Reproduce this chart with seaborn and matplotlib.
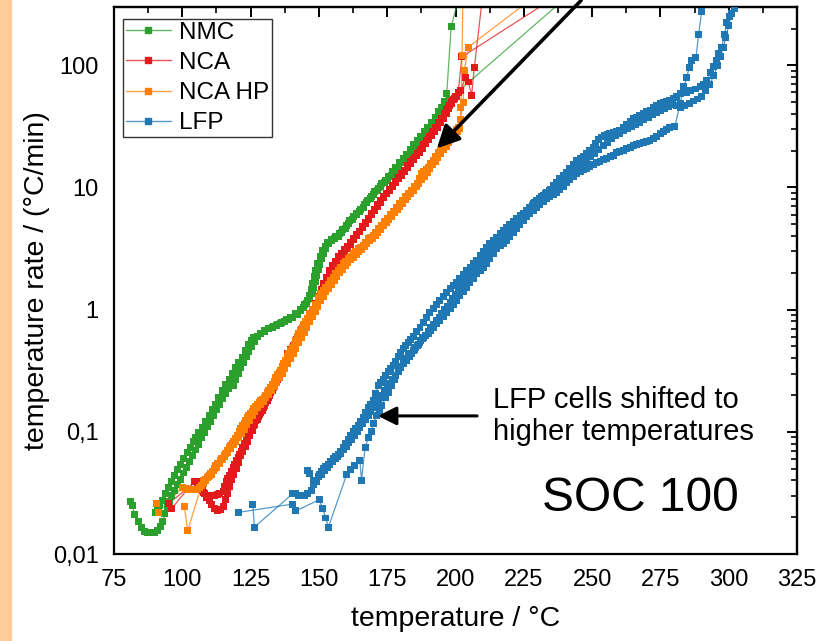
import numpy as np
import pandas as pd
import matplotlib
matplotlib.use("Agg")
import matplotlib.pyplot as plt
from matplotlib.lines import Line2D
from matplotlib.ticker import MultipleLocator, LogLocator, NullFormatter, FixedLocator, FixedFormatter
from matplotlib.patches import Rectangle
import seaborn as sns

sns.set_style('white')
plt.rcParams['font.family'] = ['Liberation Sans', 'DejaVu Sans']
plt.rcParams['text.color'] = 'black'
plt.rcParams['axes.labelcolor'] = 'black'
plt.rcParams['xtick.color'] = 'black'
plt.rcParams['ytick.color'] = 'black'

# ---- data (temperature in degC, rate in degC/min) ----
nmc1_t = [80.9, 81.6, 82.6, 83.8, 85.0, 86.2, 87.4, 88.6, 89.8, 90.9, 92.0, 92.9, 93.6, 94.4, 95.3, 96.2, 97.2, 98.2, 99.2, 100.3,
          101.4, 102.5, 103.6, 104.7, 105.8, 106.9, 108.0, 109.1, 110.2, 111.3, 112.4, 113.5, 114.6, 115.7, 116.8, 117.8, 118.6, 119.4, 120.4, 121.4,
          122.4, 123.4, 124.4, 125.4, 126.4, 127.4, 128.6, 130.0, 131.5, 133.0, 134.5, 136.0, 137.5, 139.0, 140.5, 142.0, 143.3, 144.5, 145.6, 146.6,
          147.5, 148.2, 148.8, 149.3, 149.8, 150.4, 151.1, 151.8, 152.6, 153.5, 154.6, 155.8, 157.1, 158.4, 159.7, 161.0, 162.3, 163.6, 164.9, 166.2,
          167.5, 168.8, 170.1, 171.4, 172.7, 174.0, 175.3, 176.6, 177.9, 179.2, 180.5, 181.8, 183.1, 184.4, 185.7, 187.0, 188.3, 189.6, 190.9, 192.2,
          193.5, 194.8, 196.0, 197.0, 197.8, 252.0]
nmc1_r = [0.027, 0.025, 0.021, 0.0186, 0.0165, 0.0152, 0.015, 0.015, 0.015, 0.0155, 0.0168, 0.0186, 0.0215, 0.0243, 0.027, 0.030, 0.033, 0.037, 0.041, 0.046,
          0.051, 0.057, 0.064, 0.071, 0.079, 0.089, 0.099, 0.110, 0.122, 0.136, 0.151, 0.168, 0.186, 0.205, 0.226, 0.24, 0.238, 0.27, 0.30, 0.335,
          0.37, 0.41, 0.455, 0.50, 0.55, 0.60, 0.635, 0.665, 0.695, 0.72, 0.745, 0.77, 0.80, 0.83, 0.87, 0.92, 0.98, 1.05, 1.13, 1.23,
          1.36, 1.52, 1.70, 1.90, 2.12, 2.36, 2.62, 2.90, 3.18, 3.45, 3.66, 3.82, 4.0, 4.3, 4.65, 5.05, 5.5, 5.95, 6.4, 6.9,
          7.5, 8.1, 8.7, 9.4, 10.1, 10.9, 11.7, 12.6, 13.6, 14.7, 15.9, 17.1, 18.4, 19.8, 21.4, 23.0, 24.8, 26.8, 29.0, 31.5,
          34.5, 38.0, 42.0, 47.0, 53.0, 600]

nmc2_t = [90.3, 91.0, 91.8, 92.7, 93.7, 94.8, 95.9, 97.0, 98.2, 99.4, 100.6, 101.8, 103.0, 104.0, 104.9, 106.1, 107.3, 108.5, 109.8, 110.9,
          112.0, 113.3, 114.6, 115.9, 117.1, 118.3, 119.5, 120.7, 122.0, 123.2, 124.4, 125.3, 126.2, 129.9, 131.5, 133.2, 134.8, 136.4, 138.0, 139.7,
          141.5, 143.3, 144.7, 145.9, 146.7, 147.3, 147.8, 148.3, 148.8, 149.6, 150.5, 151.4, 152.3, 153.3, 154.6, 156.0, 157.4, 158.7, 160.0, 161.3,
          162.6, 163.9, 165.2, 166.5, 167.8, 169.1, 170.4, 171.7, 173.0, 174.3, 175.6, 176.9, 178.2, 179.5, 180.8, 182.1, 183.4, 184.7, 186.0, 187.3,
          188.6, 189.9, 191.2, 192.5, 193.7, 194.9, 196.0, 196.8, 198.4, 200.7, 202.5]
nmc2_r = [0.022, 0.0235, 0.025, 0.0275, 0.031, 0.035, 0.039, 0.0436, 0.049, 0.054, 0.061, 0.068, 0.075, 0.083, 0.09, 0.099, 0.108, 0.121, 0.135, 0.151,
          0.169, 0.19, 0.217, 0.243, 0.27, 0.30, 0.337, 0.37, 0.407, 0.46, 0.523, 0.56, 0.595, 0.673, 0.70, 0.73, 0.763, 0.79, 0.83, 0.865,
          0.93, 1.01, 1.1, 1.2, 1.3, 1.45, 1.65, 1.87, 2.1, 2.4, 2.7, 3.05, 3.3, 3.55, 3.78, 3.95, 4.2, 4.55, 4.9, 5.35,
          5.75, 6.15, 6.6, 7.2, 7.9, 8.5, 9.2, 9.9, 10.7, 11.5, 12.4, 13.5, 14.6, 15.9, 17.2, 18.8, 20.5, 22.3, 24.2, 26.2,
          28.5, 31.0, 34.0, 37.5, 41.5, 45.5, 50.5, 58.6, 206, 324, 900]

nca1_t = [96.1, 104.3, 105.2, 106.1, 107.0, 107.9, 108.9, 109.8, 110.7, 111.7, 112.8, 114.0, 115.0, 115.9, 116.7, 117.4, 118.2, 118.9, 119.7, 120.5,
          121.4, 122.2, 123.0, 123.8, 124.7, 125.6, 126.5, 127.5, 128.4, 129.3, 130.2, 131.1, 132.0, 133.0, 133.9, 134.8, 138.4, 139.6, 140.9, 141.8,
          142.7, 143.6, 144.5, 145.5, 146.4, 147.3, 148.2, 149.1, 150.0, 150.9, 151.8, 152.8, 153.8, 154.8, 155.9, 157.0, 158.1, 159.2, 160.3, 161.4,
          162.5, 163.6, 164.7, 165.8, 166.9, 168.0, 169.1, 170.2, 171.3, 172.4, 173.5, 174.6, 175.7, 176.8, 177.9, 179.0, 180.1, 181.2, 182.3, 183.4,
          184.5, 185.6, 186.7, 187.8, 188.9, 190.0, 191.1, 192.2, 193.3, 194.4, 195.5, 196.6, 197.6, 198.5, 199.3, 200.0, 201.0, 202.3, 251.8]
nca1_r = [0.0235, 0.0394, 0.039, 0.037, 0.0345, 0.032, 0.029, 0.0272, 0.0252, 0.0237, 0.0225, 0.023, 0.0245, 0.028, 0.031, 0.036, 0.041, 0.045, 0.050, 0.056,
          0.0636, 0.069, 0.076, 0.084, 0.093, 0.102, 0.114, 0.127, 0.138, 0.149, 0.164, 0.18, 0.198, 0.217, 0.243, 0.27, 0.434, 0.475, 0.52, 0.575,
          0.63, 0.685, 0.74, 0.80, 0.865, 0.93, 1.0, 1.1, 1.2, 1.32, 1.45, 1.6, 1.77, 1.97, 2.18, 2.4, 2.63, 2.88, 3.14, 3.42,
          3.72, 4.03, 4.36, 4.72, 5.1, 5.5, 5.95, 6.45, 7.0, 7.6, 8.2, 8.85, 9.5, 10.2, 11.0, 11.8, 12.6, 13.5, 14.5, 15.6,
          16.8, 18.1, 19.5, 21.0, 22.7, 24.5, 26.5, 28.7, 31.2, 34.0, 37.0, 40.5, 44.5, 48.5, 52.5, 56.0, 60.0, 117, 600]

nca2_t = [95.1, 104.9, 105.7, 106.5, 107.4, 108.2, 109.1, 110.0, 111.0, 111.9, 112.8, 113.7, 114.9, 115.5, 116.1, 116.7, 117.3, 118.0, 118.6, 119.2,
          119.8, 120.4, 121.0, 121.6, 122.2, 122.8, 123.4, 124.2, 125.0, 126.0, 126.9, 127.8, 128.7, 129.6, 130.6, 131.5, 132.4, 133.3, 134.2, 135.1,
          136.0, 137.0, 137.9, 138.8, 139.7, 140.6, 141.5, 142.4, 143.3, 144.2, 145.2, 146.1, 147.0, 147.9, 148.8, 149.8, 150.8, 151.8, 152.9, 154.0,
          155.1, 156.2, 157.3, 158.4, 159.5, 160.6, 161.7, 162.8, 163.9, 165.0, 166.1, 167.2, 168.3, 169.4, 170.5, 171.6, 172.7, 173.8, 174.9, 176.0,
          177.1, 178.2, 179.3, 180.4, 181.5, 182.6, 183.7, 184.8, 185.9, 187.0, 188.1, 189.2, 190.3, 191.4, 192.5, 193.6, 194.7, 195.8, 196.8, 197.7,
          198.6, 199.5, 200.4, 202.0, 203.5, 204.7, 205.9, 206.9, 211.0]
nca2_r = [0.026, 0.039, 0.037, 0.035, 0.033, 0.031, 0.0303, 0.030, 0.030, 0.030, 0.0305, 0.031, 0.0325, 0.036, 0.0394, 0.0415, 0.0437, 0.047, 0.051, 0.0545,
          0.058, 0.0615, 0.065, 0.0695, 0.074, 0.080, 0.087, 0.094, 0.102, 0.112, 0.123, 0.134, 0.145, 0.159, 0.175, 0.192, 0.21, 0.232, 0.255, 0.28,
          0.31, 0.34, 0.37, 0.41, 0.46, 0.505, 0.55, 0.60, 0.65, 0.70, 0.76, 0.83, 0.90, 1.0, 1.12, 1.28, 1.45, 1.63, 1.85, 2.08,
          2.3, 2.5, 2.7, 2.9, 3.08, 3.3, 3.55, 3.8, 4.1, 4.4, 4.75, 5.15, 5.6, 6.1, 6.6, 7.2, 7.8, 8.4, 9.0, 9.7,
          10.4, 11.2, 12.0, 12.9, 13.9, 15.0, 16.2, 17.5, 19.0, 20.6, 22.3, 24.2, 26.2, 28.5, 31.0, 33.8, 36.8, 40.2, 43.8, 47.2,
          50.5, 53.5, 55.0, 62.0, 80.0, 73.0, 57.0, 96.0, 600]

hp1_t = [90.6, 91.2, 100.0, 101.2, 102.4, 103.6, 104.6, 105.5, 106.3, 107.0, 107.8, 108.6, 109.2, 109.8, 110.4, 111.0, 111.7, 112.3, 113.0, 113.8,
         114.5, 115.3, 115.9, 116.5, 117.1, 117.7, 118.3, 118.9, 119.5, 120.1, 120.8, 121.4, 122.0, 122.6, 123.2, 123.8, 124.4, 125.0, 125.6, 126.2,
         126.8, 127.5, 128.1, 128.7, 129.3, 129.9, 130.5, 131.1, 131.7, 132.4, 133.0, 133.6, 134.2, 134.8, 135.4, 136.0, 136.6, 137.2, 137.8, 138.4,
         139.0, 139.7, 140.3, 140.9, 141.5, 142.1, 142.7, 143.3, 143.9, 144.5, 145.1, 145.7, 146.6, 147.6, 148.6, 149.8, 150.7, 151.6, 152.5, 153.4,
         154.3, 155.3, 156.2, 157.1, 158.0, 158.9, 159.8, 160.8, 161.7, 162.6, 163.5, 164.4, 165.3, 166.3, 167.2, 168.1, 169.0, 169.9, 170.8, 171.7,
         172.8, 173.9, 175.0, 176.1, 177.2, 178.3, 179.4, 180.5, 181.6, 182.7, 183.8, 184.9, 185.9, 186.8, 187.6, 188.4, 189.2, 190.0, 190.9, 191.9,
         192.8, 193.7, 194.6, 195.4, 196.2, 197.1, 198.0, 198.9, 199.8, 200.4, 201.0, 201.8, 202.8, 203.2, 204.7, 241.6]
hp1_r = [0.026, 0.022, 0.035, 0.0345, 0.034, 0.0336, 0.0338, 0.034, 0.0352, 0.0365, 0.038, 0.040, 0.042, 0.0436, 0.0457, 0.0478, 0.050, 0.053, 0.0555, 0.0583,
         0.061, 0.0636, 0.067, 0.0705, 0.074, 0.078, 0.081, 0.084, 0.088, 0.093, 0.10, 0.107, 0.112, 0.117, 0.123, 0.13, 0.135, 0.14, 0.147, 0.155,
         0.162, 0.169, 0.175, 0.18, 0.185, 0.19, 0.20, 0.21, 0.22, 0.23, 0.245, 0.26, 0.277, 0.295, 0.307, 0.32, 0.34, 0.36, 0.385, 0.41,
         0.435, 0.46, 0.49, 0.52, 0.56, 0.60, 0.64, 0.68, 0.715, 0.75, 0.80, 0.85, 0.925, 1.0, 1.11, 1.26, 1.35, 1.43, 1.52, 1.62,
         1.73, 1.84, 1.96, 2.09, 2.23, 2.37, 2.48, 2.6, 2.73, 2.86, 3.0, 3.15, 3.25, 3.35, 3.55, 3.8, 3.93, 4.06, 4.3, 4.6,
         4.9, 5.25, 5.6, 6.0, 6.4, 6.9, 7.4, 7.9, 8.4, 8.9, 9.4, 10.1, 10.8, 11.8, 12.9, 13.5, 14.0, 14.6, 15.6, 16.6,
         18.0, 19.5, 20.6, 21.7, 22.8, 24.3, 25.9, 27.1, 28.4, 29.8, 31.2, 36.0, 50.0, 91.0, 141, 600]

hp2_t = [100.7, 102.0, 107.6, 108.6, 109.6, 110.6, 111.6, 112.6, 113.6, 114.6, 115.6, 116.6, 117.6, 118.6, 119.6, 120.6, 121.6, 122.6, 123.6, 124.6,
         125.6, 126.6, 127.6, 128.6, 129.6, 130.6, 131.6, 132.6, 133.6, 134.6, 135.6, 136.6, 137.6, 138.6, 139.6, 140.6, 141.6, 142.6, 143.6, 144.6,
         145.6, 146.6, 147.6, 148.6, 149.6, 150.6, 151.6, 152.6, 153.6, 154.6, 155.6, 156.6, 157.6, 158.6, 159.6, 160.6, 161.6, 162.6, 163.6, 164.6,
         165.6, 166.6, 167.6, 168.6, 169.6, 170.6, 171.6, 172.6, 173.6, 174.6, 175.6, 176.6, 177.6, 178.6, 179.6, 180.6, 181.6, 182.6, 183.6, 184.6,
         185.6, 186.6, 187.6, 188.6, 189.6, 190.6, 191.6, 192.6, 193.6, 194.6, 195.6, 196.6, 197.6, 198.6, 199.6, 200.6, 201.5, 202.0, 202.4, 203.0]
hp2_r = [0.0245, 0.0156, 0.040, 0.041, 0.043, 0.045, 0.048, 0.051, 0.055, 0.059, 0.063, 0.068, 0.073, 0.078, 0.083, 0.089, 0.097, 0.105, 0.114, 0.124,
         0.135, 0.146, 0.157, 0.168, 0.178, 0.19, 0.203, 0.218, 0.235, 0.255, 0.278, 0.302, 0.33, 0.365, 0.40, 0.44, 0.485, 0.535, 0.59, 0.65,
         0.72, 0.80, 0.88, 0.97, 1.07, 1.18, 1.29, 1.4, 1.5, 1.62, 1.74, 1.87, 2.0, 2.14, 2.28, 2.42, 2.55, 2.68, 2.82, 2.98,
         3.12, 3.28, 3.45, 3.65, 3.85, 4.05, 4.28, 4.55, 4.85, 5.15, 5.45, 5.8, 6.2, 6.6, 7.0, 7.45, 7.9, 8.4, 8.9, 9.5,
         10.1, 10.8, 11.6, 12.4, 13.3, 14.3, 15.3, 16.4, 17.6, 18.9, 20.3, 21.8, 23.4, 25.0, 26.7, 28.5, 30.5, 45.0, 120, 1000]

lfp1_t = [145.7, 146.7, 147.9, 149.2, 150.1, 151.0, 151.6, 152.5, 153.4, 154.3, 155.3, 156.2, 157.1, 158.0, 158.9, 159.8, 160.8, 161.7, 162.6, 163.5,
          164.4, 165.3, 166.3, 167.2, 168.1, 169.0, 169.9, 170.8, 171.7, 172.6, 173.6, 174.5, 175.4, 176.3, 177.2, 178.2, 179.1, 180.0, 180.9, 181.8,
          182.7, 183.6, 184.6, 185.8, 187.0, 188.2, 189.4, 190.6, 191.9, 193.1, 194.3, 195.5, 196.8, 198.0, 199.2, 200.4, 201.6, 202.8, 204.1, 205.3,
          206.5, 207.8, 209.0, 210.2, 211.4, 212.6, 213.9, 215.1, 216.3, 217.5, 218.7, 219.9, 221.2, 222.4, 223.6, 224.8, 226.0, 227.2, 228.5, 229.7,
          230.9, 232.1, 233.4, 234.6, 235.8, 237.0, 238.2, 239.5, 240.7, 241.9, 243.1, 244.4, 245.6, 246.8, 248.0, 249.2, 250.4, 251.4, 252.5, 253.5,
          254.5, 255.5, 256.5, 257.7, 259.0, 260.2, 261.4, 262.7, 263.9, 265.1, 266.3, 267.5, 268.8, 270.0, 271.2, 272.4, 273.6, 274.9, 276.1, 277.3,
          278.5, 279.7, 281.0, 282.2, 283.4, 284.6, 285.9, 287.7, 289.5, 290.8, 292.0, 293.2, 294.5, 295.7, 296.3, 297.5, 298.5, 299.3, 300.2, 301.0,
          302.0, 302.9, 304.5]
lfp1_r = [0.0485, 0.0455, 0.040, 0.039, 0.045, 0.047, 0.050, 0.052, 0.054, 0.057, 0.060, 0.0625, 0.065, 0.0695, 0.074, 0.080, 0.086, 0.093, 0.10, 0.106,
          0.112, 0.121, 0.131, 0.144, 0.157, 0.168, 0.18, 0.205, 0.238, 0.254, 0.27, 0.29, 0.31, 0.33, 0.35, 0.38, 0.41, 0.445, 0.48, 0.51,
          0.54, 0.57, 0.60, 0.66, 0.72, 0.79, 0.87, 0.95, 1.02, 1.1, 1.18, 1.28, 1.38, 1.48, 1.58, 1.67, 1.8, 1.94, 2.09, 2.22,
          2.37, 2.52, 2.75, 3.0, 3.24, 3.45, 3.68, 3.92, 4.2, 4.45, 4.72, 4.98, 5.25, 5.54, 5.85, 6.17, 6.5, 6.9, 7.35, 7.8,
          8.2, 8.65, 9.1, 9.7, 10.3, 11.0, 11.8, 12.5, 13.3, 14.3, 15.4, 16.6, 17.3, 18.0, 18.9, 20.0, 21.4, 23.0, 24.6, 25.9,
          26.5, 27.0, 27.5, 28.2, 28.8, 29.5, 31.0, 32.8, 34.5, 36.5, 37.7, 38.9, 40.2, 41.5, 42.8, 45.0, 47.0, 48.5, 49.5, 50.5,
          51.6, 54.0, 56.0, 58.6, 66.5, 60.0, 62.0, 64.0, 66.5, 70.0, 75.0, 88.0, 97.0, 110, 125, 141, 180, 226, 250, 265,
          290, 320, 600]

lfp2_t = [125.8, 126.4, 140.3, 141.4, 142.5, 143.6, 144.7, 146.0, 147.3, 148.0, 149.0, 150.0, 151.0, 152.0, 153.0, 154.0, 155.0, 156.0, 157.0, 158.0,
          159.0, 160.0, 161.0, 162.0, 163.0, 164.0, 165.0, 166.0, 167.0, 168.0, 169.0, 170.0, 171.0, 172.0, 173.0, 174.0, 175.0, 176.0, 177.0, 178.0,
          179.0, 180.0, 181.0, 182.0, 183.0, 184.0, 185.0, 186.0, 187.0, 188.0, 189.0, 190.0, 191.0, 192.0, 193.0, 194.0, 195.0, 196.0, 197.0, 198.0,
          199.0, 200.0, 201.0, 202.0, 203.0, 204.0, 205.0, 206.0, 207.0, 208.0, 209.0, 210.0, 211.0, 212.0, 213.0, 214.0, 215.0, 216.0, 217.0, 218.0,
          219.0, 220.0, 221.0, 222.0, 223.0, 224.0, 225.0, 226.0, 227.0, 228.0, 229.0, 230.0, 231.5, 233.0, 234.5, 236.0, 237.5, 239.0, 240.5, 242.0,
          243.5, 245.0, 246.5, 248.0, 249.5, 251.0, 252.5, 254.0, 255.5, 257.0, 258.5, 260.0, 261.5, 263.0, 264.5, 266.0, 267.5, 269.0, 270.5, 272.0,
          273.5, 275.0, 276.5, 278.0, 279.5, 281.0, 282.5, 284.0, 285.5, 287.0, 288.5, 290.0, 291.5, 293.0, 294.5, 296.0, 297.0, 298.0, 299.0, 300.0,
          301.0, 302.0, 303.5]
lfp2_r = [0.0256, 0.0166, 0.031, 0.031, 0.030, 0.030, 0.030, 0.031, 0.033, 0.037, 0.040, 0.043, 0.045, 0.048, 0.051, 0.054, 0.057, 0.060, 0.063, 0.067,
          0.071, 0.076, 0.081, 0.087, 0.094, 0.101, 0.109, 0.117, 0.126, 0.136, 0.147, 0.159, 0.172, 0.186, 0.2, 0.216, 0.233, 0.251, 0.27, 0.29,
          0.312, 0.335, 0.36, 0.385, 0.41, 0.44, 0.47, 0.505, 0.54, 0.58, 0.62, 0.665, 0.71, 0.76, 0.815, 0.87, 0.93, 1.0, 1.07, 1.15,
          1.23, 1.32, 1.41, 1.51, 1.62, 1.73, 1.85, 1.98, 2.12, 2.27, 2.42, 2.58, 2.75, 2.93, 3.12, 3.32, 3.53, 3.75, 3.98, 4.22,
          4.47, 4.73, 5.0, 5.28, 5.57, 5.87, 6.18, 6.5, 6.83, 7.17, 7.52, 7.88, 8.4, 8.95, 9.5, 10.1, 10.7, 11.4, 12.1, 12.9,
          13.7, 14.6, 15.6, 16.6, 17.8, 19.0, 20.5, 22.0, 23.5, 25.0, 26.5, 27.8, 29.0, 30.3, 31.5, 32.8, 34.2, 35.8, 37.5, 39.2,
          41.0, 42.8, 44.5, 46.0, 47.5, 46.5, 45.5, 46.5, 48.5, 51.0, 53.0, 56.0, 62.0, 70.0, 82.0, 100, 118, 140, 170, 210,
          265, 320, 600]

lfp3_t = [120.5, 140.3, 141.5, 150.1, 151.4, 152.5, 153.5, 160.2, 161.5, 163.2, 165.0, 165.6, 166.9, 168.1, 169.3, 169.9, 171.2, 172.2, 173.0, 174.3,
          175.5, 176.6, 177.8, 179.1, 180.0, 180.9, 181.8, 182.7, 183.6, 184.6, 185.5, 186.4, 187.3, 188.2, 189.1, 190.0, 191.0, 191.9, 193.1, 194.3,
          195.5, 196.8, 198.0, 199.2, 200.4, 201.6, 202.8, 204.1, 205.3, 206.5, 207.8, 209.0, 210.2, 211.4, 212.6, 213.9, 215.1, 216.3, 217.5, 218.7,
          219.9, 221.2, 222.4, 223.6, 224.8, 226.0, 227.2, 228.5, 229.7, 230.9, 232.1, 233.4, 234.6, 235.8, 237.0, 238.2, 239.5, 240.7, 241.9, 243.1,
          244.4, 245.6, 246.8, 248.0, 249.2, 250.4, 251.7, 252.9, 254.1, 255.3, 256.6, 257.8, 259.0, 260.2, 261.4, 262.6, 263.9, 265.1, 266.3, 267.5,
          268.8, 270.0, 271.2, 272.4, 273.6, 274.9, 276.1, 277.3, 278.5, 280.3, 282.2, 283.4, 284.6, 285.6, 286.5, 288.0, 289.0, 290.1, 292.0, 293.5]
lfp3_r = [0.0219, 0.0256, 0.0225, 0.0278, 0.0235, 0.0197, 0.0166, 0.045, 0.049, 0.053, 0.058, 0.040, 0.074, 0.09, 0.10, 0.116, 0.136, 0.15, 0.165, 0.19,
          0.21, 0.238, 0.27, 0.31, 0.34, 0.37, 0.395, 0.42, 0.44, 0.46, 0.49, 0.52, 0.555, 0.59, 0.615, 0.64, 0.68, 0.72, 0.77, 0.82,
          0.88, 0.95, 1.02, 1.1, 1.19, 1.3, 1.4, 1.52, 1.66, 1.8, 1.97, 2.1, 2.22, 2.37, 2.6, 2.88, 3.15, 3.33, 3.5, 3.68,
          3.95, 4.25, 4.59, 4.95, 5.35, 5.74, 6.1, 6.5, 6.9, 7.3, 7.7, 8.1, 8.4, 8.75, 9.1, 9.6, 10.2, 11.0, 11.7, 12.3,
          12.9, 13.4, 13.9, 14.4, 14.9, 15.4, 16.0, 16.4, 16.9, 17.4, 17.8, 18.4, 19.2, 19.6, 20.1, 20.7, 21.4, 21.9, 22.4, 22.8,
          23.3, 23.8, 24.3, 25.2, 26.3, 27.5, 28.7, 30.0, 31.2, 31.5, 48.5, 64.0, 80.0, 96.0, 110, 115, 180, 274, 320, 600]

cells = ['NMC', 'NCA', 'NCA HP', 'LFP']
colors = ['#2ca02c', '#e31a1c', '#ff7f00', '#1f78b4']

runs = [
    ('NMC', 'nmc1', nmc1_t, nmc1_r), ('NMC', 'nmc2', nmc2_t, nmc2_r),
    ('NCA', 'nca1', nca1_t, nca1_r), ('NCA', 'nca2', nca2_t, nca2_r),
    ('NCA HP', 'hp1', hp1_t, hp1_r), ('NCA HP', 'hp2', hp2_t, hp2_r),
    ('LFP', 'lfp1', lfp1_t, lfp1_r), ('LFP', 'lfp2', lfp2_t, lfp2_r), ('LFP', 'lfp3', lfp3_t, lfp3_r),
]
df = pd.concat([pd.DataFrame({'cell': c, 'run': r, 'T': t, 'rate': v}) for c, r, t, v in runs],
               ignore_index=True)
pal = dict(zip(cells, colors))

fig = plt.figure(figsize=(8.16, 6.41), dpi=100)
ax = fig.add_axes([114 / 816, 1 - 554 / 641, 683 / 816, 547 / 641])
ax.set_yscale('log')

sns.lineplot(data=df, x='T', y='rate', hue='cell', units='run', estimator=None, sort=False,
             palette=pal, hue_order=cells, lw=0.9, alpha=0.75, legend=False, ax=ax)
sns.scatterplot(data=df, x='T', y='rate', hue='cell', palette=pal, hue_order=cells,
                marker='s', s=25, linewidth=0, legend=False, ax=ax, zorder=3)

ax.set_xlim(75, 325)
ax.set_ylim(0.01, 300)

# ticks: out on left/bottom, in on top/right
ax.xaxis.set_major_locator(MultipleLocator(25))
ax.xaxis.set_minor_locator(MultipleLocator(12.5))
ax.yaxis.set_major_locator(FixedLocator([0.01, 0.1, 1, 10, 100]))
ax.yaxis.set_major_formatter(FixedFormatter(['0,01', '0,1', '1', '10', '100']))
ax.yaxis.set_minor_locator(LogLocator(base=10, subs=np.arange(2, 10)))
ax.yaxis.set_minor_formatter(NullFormatter())
ax.tick_params(which='major', direction='out', length=7, width=1.4, labelsize=17, pad=4, color='black')
ax.tick_params(which='minor', direction='out', length=4, width=1.2, color='black')

secx = ax.secondary_xaxis('top')
secx.xaxis.set_major_locator(MultipleLocator(25))
secx.xaxis.set_minor_locator(MultipleLocator(12.5))
secx.tick_params(which='major', direction='in', length=7, width=1.4, labeltop=False, color='black')
secx.tick_params(which='minor', direction='in', length=4, width=1.2, color='black')
secx.spines['top'].set_linewidth(1.6)

secy = ax.secondary_yaxis('right')
secy.yaxis.set_major_locator(FixedLocator([0.01, 0.1, 1, 10, 100]))
secy.yaxis.set_minor_locator(LogLocator(base=10, subs=np.arange(2, 10)))
secy.yaxis.set_minor_formatter(NullFormatter())
secy.tick_params(which='major', direction='in', length=7, width=1.4, labelright=False, color='black')
secy.tick_params(which='minor', direction='in', length=4, width=1.2, color='black')
secy.spines['right'].set_linewidth(1.6)

for s in ax.spines.values():
    s.set_color('black')
    s.set_linewidth(1.6)

ax.set_xlabel('temperature / °C', fontsize=20.5)
ax.set_ylabel('temperature rate / (°C/min)', fontsize=20.5)
ax.xaxis.set_label_coords(0.5, -0.095)
ax.yaxis.set_label_coords(-0.094, 0.5)

# legend
handles = []
for c in colors:
    h = Line2D([], [], color=matplotlib.colors.to_rgba(c, 0.75), lw=1, marker='s', markersize=5,
               markerfacecolor=c, markeredgecolor=c)
    handles.append(h)
leg = ax.legend(handles, cells, loc='upper left', bbox_to_anchor=(0.013, 0.978), fontsize=17.5,
                frameon=True, fancybox=False, framealpha=1, edgecolor='#333333', borderpad=0.12,
                labelspacing=0.33, handlelength=1.85, handletextpad=0.35, borderaxespad=0, numpoints=1)
leg.get_frame().set_linewidth(1.0)

# annotations
ax.annotate('', xy=(193.2, 20.9), xytext=(246, 340), annotation_clip=False,
            arrowprops=dict(arrowstyle='-|>', color='black', lw=2.6, mutation_scale=34, shrinkA=0, shrinkB=0))
ax.annotate('', xy=(171.6, 0.135), xytext=(207.9, 0.135),
            arrowprops=dict(arrowstyle='-|>', color='black', lw=2.2, mutation_scale=28, shrinkA=0, shrinkB=0))
ax.text(213.7, 0.135, 'LFP cells shifted to\nhigher temperatures', fontsize=21, va='center', ha='left',
        linespacing=1.15)
ax.text(267.5, 0.0282, 'SOC 100', fontsize=34.5, va='center', ha='center')

fig.patches.append(Rectangle((0, 0), 11 / 816, 1, transform=fig.transFigure, color='#ffcc99', zorder=0))

fig.savefig('out.png', dpi=100)
